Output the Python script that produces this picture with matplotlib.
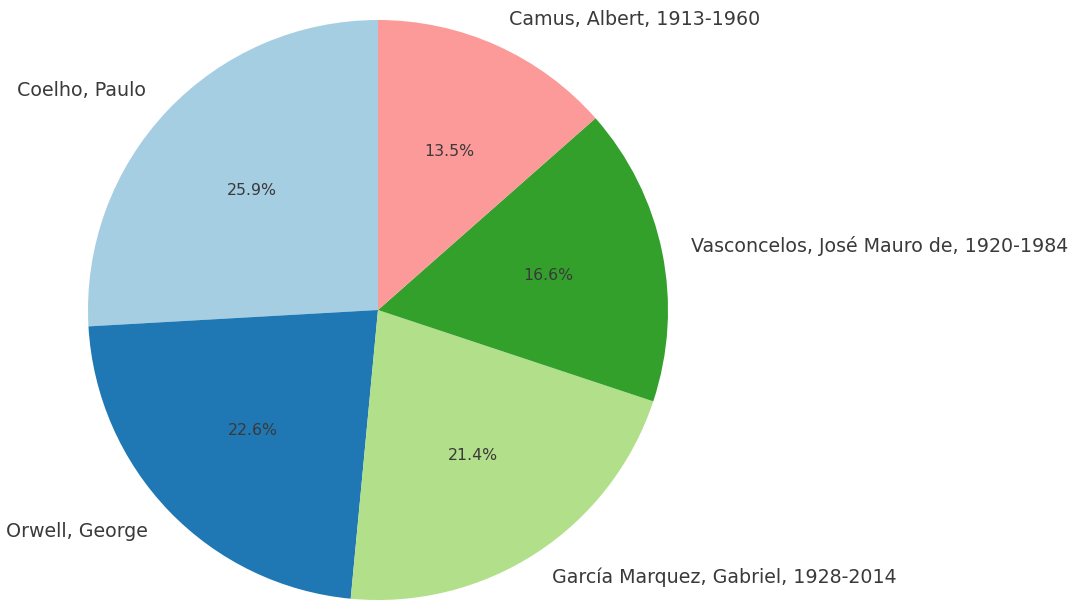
import matplotlib
matplotlib.use("Agg")
import matplotlib.pyplot as plt

authors = [
    "Coelho, Paulo",
    "Orwell, George",
    "García Marquez, Gabriel, 1928-2014",
    "Vasconcelos, José Mauro de, 1920-1984",
    "Camus, Albert, 1913-1960",
]
shares = [25.9, 22.6, 21.4, 16.6, 13.5]

colors = plt.cm.Paired.colors[:5]

fig = plt.figure(figsize=(10.74, 6.01), dpi=100)
# pie centre at (378, 310) px from top-left, radius ~290 px
ax = fig.add_axes([(378 - 290) / 1074, (291 - 290) / 601, 580 / 1074, 580 / 601])

wedges, texts, autotexts = ax.pie(
    shares,
    labels=authors,
    colors=colors,
    autopct="%1.1f%%",
    startangle=90,
    textprops={"color": "#3a3a3a"},
)
for t in texts:
    t.set_fontsize(13.65)
for t in autotexts:
    t.set_fontsize(11.3)

ax.set_xlim(-1, 1)
ax.set_ylim(-1, 1)
ax.set_aspect("equal")
ax.axis("off")

fig.savefig("out.png", dpi=100)
